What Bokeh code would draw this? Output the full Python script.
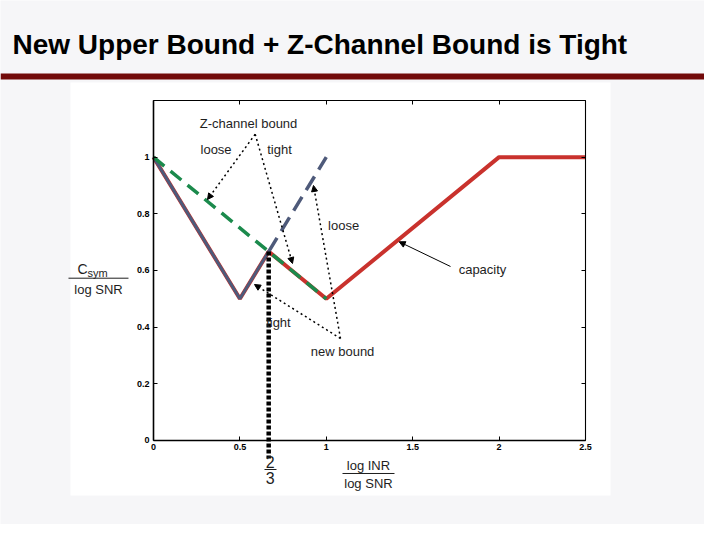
from bokeh.plotting import figure
from bokeh.models import (Range1d, LinearAxis, FixedTicker, BoxAnnotation, Label,
                          Arrow, NormalHead)
from bokeh.core.properties import value
from bokeh.embed import file_html
from bokeh.resources import INLINE

# ---------------- data ----------------
alpha_capacity = [0, 0.5, 2 / 3, 1, 2, 2.5]
capacity = [1, 0.5, 2 / 3, 0.5, 1, 1]
alpha_new_solid = [0, 0.5, 2 / 3]
new_bound_solid = [1, 0.5, 2 / 3]
alpha_new_dash = [2 / 3, 1]
new_bound_dash = [2 / 3, 1]
alpha_z = [0, 1]
z_bound = [1, 0.5]
tight_alpha = 2 / 3
tight_value = 2 / 3
x_ticks = [0, 0.5, 1, 1.5, 2, 2.5]
x_tick_labels = ["0", "0.5", "1", "1.5", "2", "2.5"]
y_ticks = [0, 0.2, 0.4, 0.6, 0.8, 1.0, 1.2]
y_tick_labels = ["0", "0.2", "0.4", "0.6", "0.8", "1", ""]
x_max = 2.5
y_max = 1.2

# ---------------- style ----------------
SLIDE_BG = "#f6f6f8"
RED = "#c9322d"
SLATE = "#4e5a7a"
GREEN = "#1b8a4c"
TXT = "#1e1e1e"
FONT = "Liberation Sans"

W, H = 704, 524
p = figure(width=W, height=H, output_backend="svg", toolbar_location=None,
           x_range=Range1d(-0.8854, 3.1887), y_range=Range1d(-0.2965, 1.5529),
           x_axis_location=None, y_axis_location=None, min_border=0,
           background_fill_color=SLIDE_BG, border_fill_color=SLIDE_BG,
           outline_line_color=None)
p.grid.visible = False

# white picture area and title rule
p.add_layout(BoxAnnotation(left=70, right=610, bottom=29, top=442,
                           left_units="screen", right_units="screen",
                           bottom_units="screen", top_units="screen",
                           fill_color="white", fill_alpha=1, line_color=None,
                           level="underlay"))
p.add_layout(BoxAnnotation(left=0, right=W, bottom=445, top=451,
                           left_units="screen", right_units="screen",
                           bottom_units="screen", top_units="screen",
                           fill_color="#720a0a", fill_alpha=1, line_color=None,
                           level="underlay"))
p.add_layout(Label(x=12, y=480, x_units="screen", y_units="screen",
                   text="New Upper Bound + Z-Channel Bound is Tight",
                   text_font=FONT, text_font_style="bold", text_font_size="28px",
                   text_baseline="alphabetic", text_color="black"))


# ---------------- axes (box) ----------------
def mk_axis(loc, ticks, labels, bounds, width):
    return LinearAxis(fixed_location=loc, bounds=bounds,
                      ticker=FixedTicker(ticks=ticks, minor_ticks=[]),
                      major_label_overrides={t: l for t, l in zip(ticks, labels)},
                      major_tick_in=4, major_tick_out=0,
                      minor_tick_in=0, minor_tick_out=0,
                      axis_line_color="black", axis_line_width=width,
                      major_tick_line_color="black", major_tick_line_width=1,
                      major_label_text_font=FONT, major_label_text_font_style="bold",
                      major_label_text_font_size="9px", major_label_text_color="black",
                      major_label_standoff=4)


p.add_layout(mk_axis(0, x_ticks, x_tick_labels, (0, x_max), 1.6), "below")
p.add_layout(mk_axis(0, y_ticks, y_tick_labels, (0, y_max), 1.6), "left")
p.add_layout(mk_axis(y_max, x_ticks, [""] * len(x_ticks), (0, x_max), 1.1), "above")
p.add_layout(mk_axis(x_max, y_ticks, [""] * len(y_ticks), (0, y_max), 1.1), "right")

# ---------------- curves ----------------
p.line(alpha_capacity, capacity, line_color=RED, line_width=4)
p.line(alpha_new_solid, new_bound_solid, line_color=SLATE, line_width=3)
p.line(alpha_new_dash, new_bound_dash, line_color=SLATE, line_width=3.5, line_dash="16 8")
p.line(alpha_z, z_bound, line_color=GREEN, line_width=3.5, line_dash="14 8")

# thick dotted marker at alpha = 2/3 (extends below the axis to the "2/3" label)
p.line([tight_alpha, tight_alpha], [tight_value, -0.0635], line_color="black",
       line_width=4.5, line_dash="4 2")

# ---------------- annotations ----------------
def txt(x, y, s, size="13px", align="center"):
    p.text(x=[x], y=[y], text=[s], text_font=value(FONT), text_font_size=value(size),
           text_align=align, text_baseline="middle", text_color=TXT)


txt(0.550, 1.119, "Z-channel bound")
txt(0.362, 1.027, "loose")
txt(0.729, 1.027, "tight")
txt(1.100, 0.759, "loose")
txt(0.723, 0.416, "tight")
txt(1.094, 0.314, "new bound")
txt(1.904, 0.603, "capacity")

dotted = dict(line_color="black", line_width=1.5, line_dash="2 3")


def arrow(x0, y0, x1, y1, **kw):
    p.add_layout(Arrow(x_start=x0, y_start=y0, x_end=x1, y_end=y1,
                       end=NormalHead(size=6, fill_color="black", line_color="black"), **kw))


arrow(0.5885, 1.081, 0.3125, 0.8505, **dotted)
arrow(0.5885, 1.081, 0.8044, 0.6247, **dotted)
arrow(1.0822, 0.360, 0.9259, 0.900, **dotted)
arrow(1.0822, 0.360, 0.5845, 0.5506, **dotted)
arrow(1.7188, 0.6141, 1.4219, 0.7013, line_color="black", line_width=1)

# y label  C_sym / log SNR
txt(-0.440, 0.6035, "C", size="14px", align="left")
txt(-0.382, 0.590, "sym", size="11px", align="left")
p.segment(x0=[-0.4919], y0=[0.5728], x1=[-0.1447], y1=[0.5728], line_color=TXT, line_width=1)
txt(-0.318, 0.533, "log SNR", size="13px")

# x label  log INR / log SNR
txt(1.244, -0.0882, "log INR", size="13px")
p.segment(x0=[1.0938], y0=[-0.1165], x1=[1.3947], y1=[-0.1165], line_color=TXT, line_width=1)
txt(1.244, -0.1518, "log SNR", size="13px")

# fraction 2/3 under the marker
txt(0.675, -0.0776, "2", size="16px")
p.segment(x0=[0.6424], y0=[-0.1024], x1=[0.7118], y1=[-0.1024], line_color=TXT, line_width=1)
txt(0.675, -0.134, "3", size="16px")

open("out.html", "w").write(file_html(p, INLINE))
